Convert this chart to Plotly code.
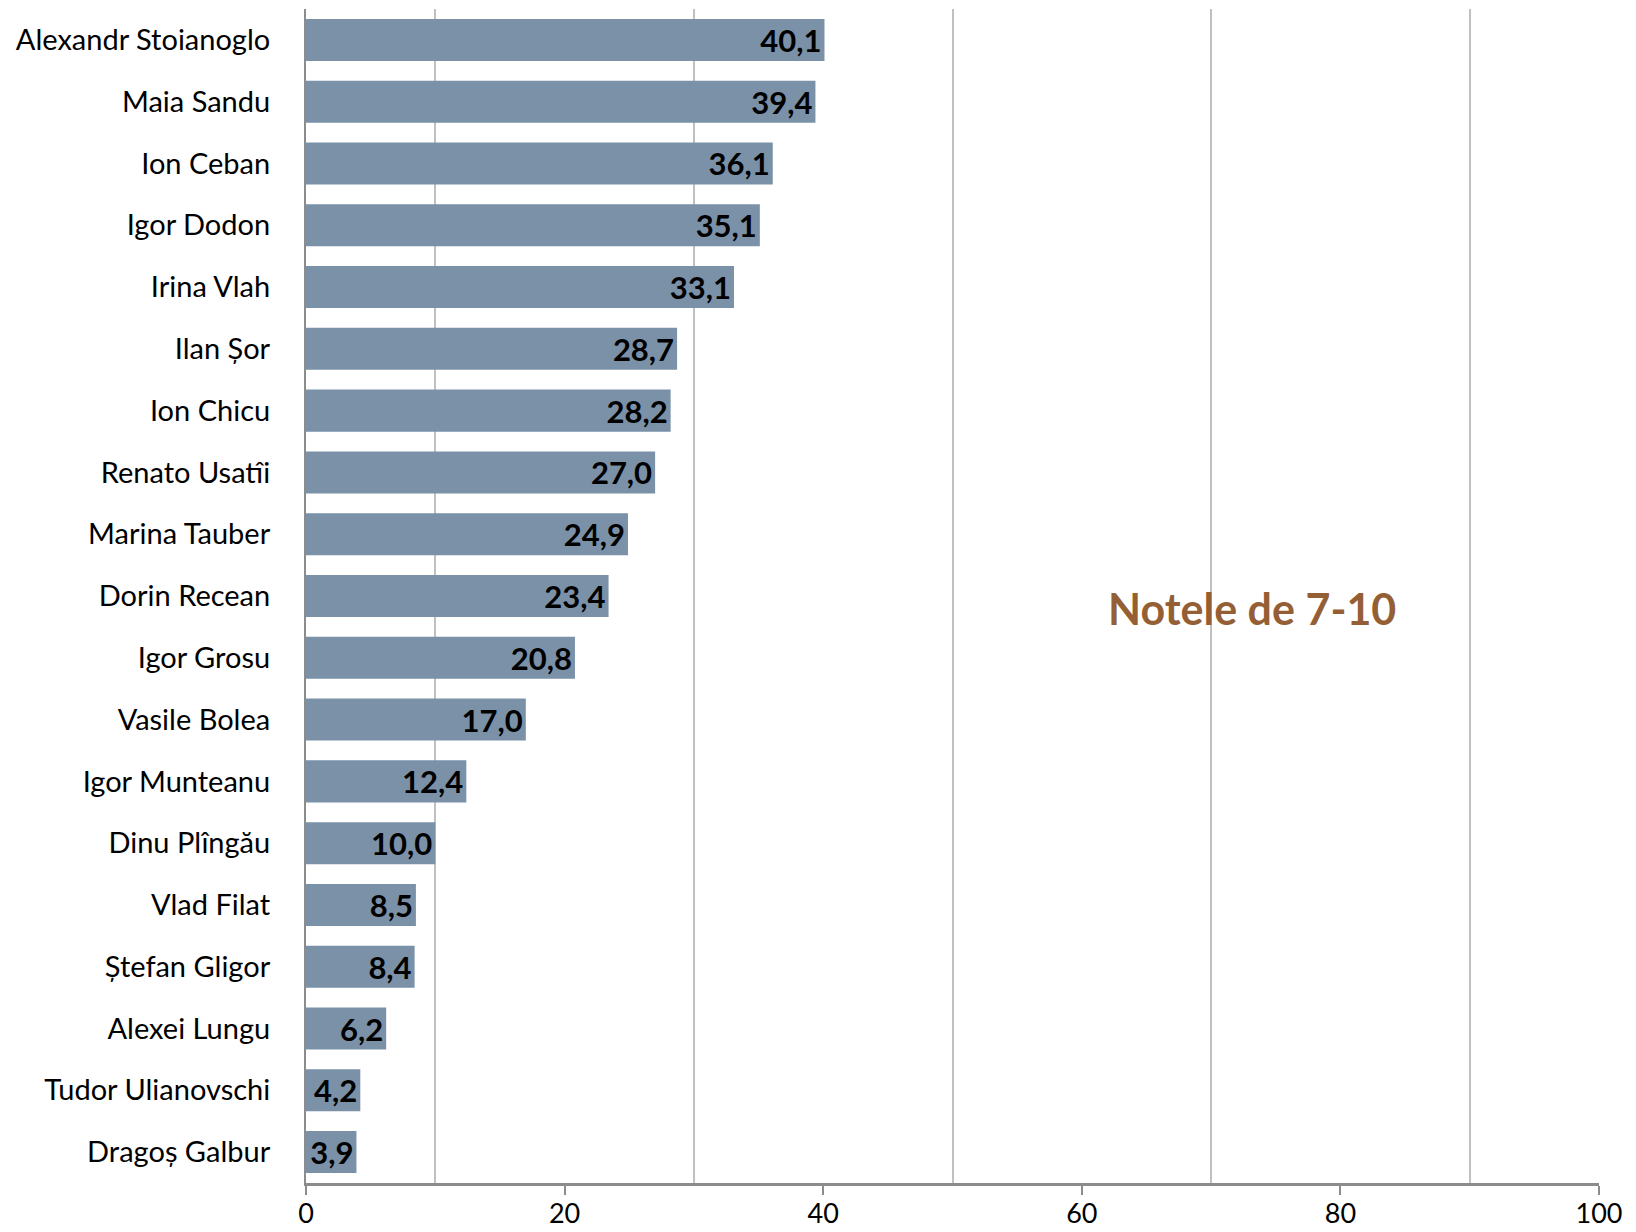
import plotly.graph_objects as go

names = [
    "Alexandr Stoianoglo", "Maia Sandu", "Ion Ceban", "Igor Dodon", "Irina Vlah",
    "Ilan Șor", "Ion Chicu", "Renato Usatîi", "Marina Tauber", "Dorin Recean",
    "Igor Grosu", "Vasile Bolea", "Igor Munteanu", "Dinu Plîngău", "Vlad Filat",
    "Ștefan Gligor", "Alexei Lungu", "Tudor Ulianovschi", "Dragoș Galbur",
]
scores = [40.1, 39.4, 36.1, 35.1, 33.1, 28.7, 28.2, 27.0, 24.9, 23.4,
          20.8, 17.0, 12.4, 10.0, 8.5, 8.4, 6.2, 4.2, 3.9]
x_ticks = [0, 20, 40, 60, 80, 100]

BAR = "#7A91A8"
AXIS = "#8C8C8C"
GRID = "#C0C0C0"

fig = go.Figure(go.Bar(
    x=scores, y=names, orientation="h",
    marker=dict(color=BAR, line=dict(width=0)),
    texttemplate="%{x:.1f}", textposition="inside", insidetextanchor="end",
    constraintext="none", cliponaxis=False,
    textfont=dict(family="Lato", size=31, color="black", weight="bold"),
))

fig.add_annotation(
    text="<b>Notele de 7-10</b>", x=73.2, y=9.2, xref="x", yref="y",
    showarrow=False, font=dict(family="Lato", size=43, color="#955F36"),
)

fig.update_layout(
    width=1628, height=1224,
    margin=dict(l=298, r=37, t=1, b=49, autoexpand=False),
    paper_bgcolor="white", plot_bgcolor="white",
    separators=", ",
    bargap=0.32,
    showlegend=False,
    font=dict(family="Lato", size=29, color="black"),
    xaxis=dict(
        range=[0, 100], tickvals=x_ticks, showgrid=False, automargin=False,
        showline=True, linecolor=AXIS, linewidth=3,
        ticks="outside", ticklen=9, tickwidth=2, tickcolor=AXIS,
        ticklabelstandoff=-4, tickfont=dict(size=27), zeroline=False,
        minor=dict(tick0=10, dtick=20, showgrid=True, gridcolor=GRID,
                   gridwidth=2, ticks=""),
    ),
    yaxis=dict(
        autorange="reversed", showgrid=False, automargin=False,
        showline=True, linecolor=AXIS, linewidth=2,
        ticks="", ticklabelstandoff=28, tickfont=dict(size=29),
    ),
)

fig.write_html("out.html")
